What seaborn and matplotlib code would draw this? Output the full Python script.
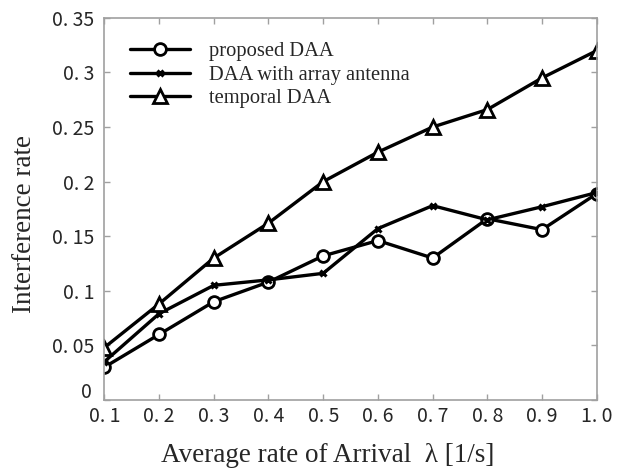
import matplotlib
matplotlib.use("Agg")
import matplotlib.pyplot as plt
import matplotlib.transforms as mtrans
import seaborn as sns
import pandas as pd

# ---- data ----
arrival_rate = [0.1, 0.2, 0.3, 0.4, 0.5, 0.6, 0.7, 0.8, 0.9, 1.0]
proposed_daa = [0.030, 0.060, 0.090, 0.108, 0.132, 0.146, 0.130, 0.166, 0.156, 0.189]
array_daa = [0.035, 0.079, 0.105, 0.110, 0.116, 0.157, 0.178, 0.165, 0.177, 0.190]
temporal_daa = [0.048, 0.088, 0.130, 0.162, 0.200, 0.227, 0.250, 0.266, 0.295, 0.320]
series_names = ["proposed DAA", "DAA with array antenna", "temporal DAA"]
x_ticks = [0.1, 0.2, 0.3, 0.4, 0.5, 0.6, 0.7, 0.8, 0.9, 1.0]
x_tick_labels = ["0. 1", "0. 2", "0. 3", "0. 4", "0. 5", "0. 6", "0. 7", "0. 8", "0. 9", "1. 0"]
y_ticks = [0, 0.05, 0.1, 0.15, 0.2, 0.25, 0.3, 0.35]
y_tick_labels = ["0", "0. 05", "0. 1", "0. 15", "0. 2", "0. 25", "0. 3", "0. 35"]

sns.set_style("white")
plt.rcParams["font.family"] = ["Liberation Serif", "DejaVu Serif"]

fig = plt.figure(figsize=(6.21, 4.70), dpi=100)
ax = fig.add_axes([0.168, 0.149, 0.793, 0.813])

df = pd.DataFrame({"x": arrival_rate * 3,
                   "y": proposed_daa + array_daa + temporal_daa,
                   "series": sum([[n] * len(arrival_rate) for n in series_names], [])})

styles = {
    "proposed DAA": dict(marker="o", markersize=8.5, markerfacecolor="white", markeredgewidth=2.0),
    "DAA with array antenna": dict(marker="x", markersize=5, markeredgewidth=2.2),
    "temporal DAA": dict(marker="^", markersize=10, markerfacecolor="white", markeredgewidth=2.0),
}
for name in series_names:
    sub = df[df["series"] == name]
    sns.lineplot(data=sub, x="x", y="y", ax=ax, color="black", linewidth=2.4,
                 label=name, markeredgecolor="black", **styles[name])

ax.set_xlim(0.1, 1.0)
ax.set_ylim(0, 0.35)
ax.set_xticks(x_ticks)
ax.set_xticklabels(x_tick_labels, family=["Noto Sans CJK JP", "DejaVu Sans"], fontsize=14)
ax.set_yticks(y_ticks)
ax.set_yticklabels(y_tick_labels, family=["Noto Sans CJK JP", "DejaVu Sans"], fontsize=14)
ax.tick_params(direction="in", length=4, width=1, color="#a0a0a0",
               top=True, right=True, bottom=True, left=True, pad=7)
ax.tick_params(axis="x", pad=4)
for sp in ax.spines.values():
    sp.set_color("#a0a0a0")
    sp.set_linewidth(1.2)

# the "0" label sits a little above its tick, as in the original
zero_label = ax.yaxis.get_major_ticks()[0].label1
zero_label.set_transform(zero_label.get_transform() +
                         mtrans.ScaledTranslation(-2 / 72, 7 / 72, fig.dpi_scale_trans))

ax.set_xlabel("Average rate of Arrival  λ [1/s]", fontsize=19.5)
ax.set_ylabel("Interference rate", fontsize=19.5)
ax.xaxis.set_label_coords(0.453, -0.112)
ax.yaxis.set_label_coords(-0.136, 0.46)

ax.legend(loc="upper left", bbox_to_anchor=(0.015, 0.985), frameon=False, fontsize=14.8,
          handlelength=2.9, handletextpad=0.95, labelspacing=0.2)

fig.savefig("out.png", dpi=100)
